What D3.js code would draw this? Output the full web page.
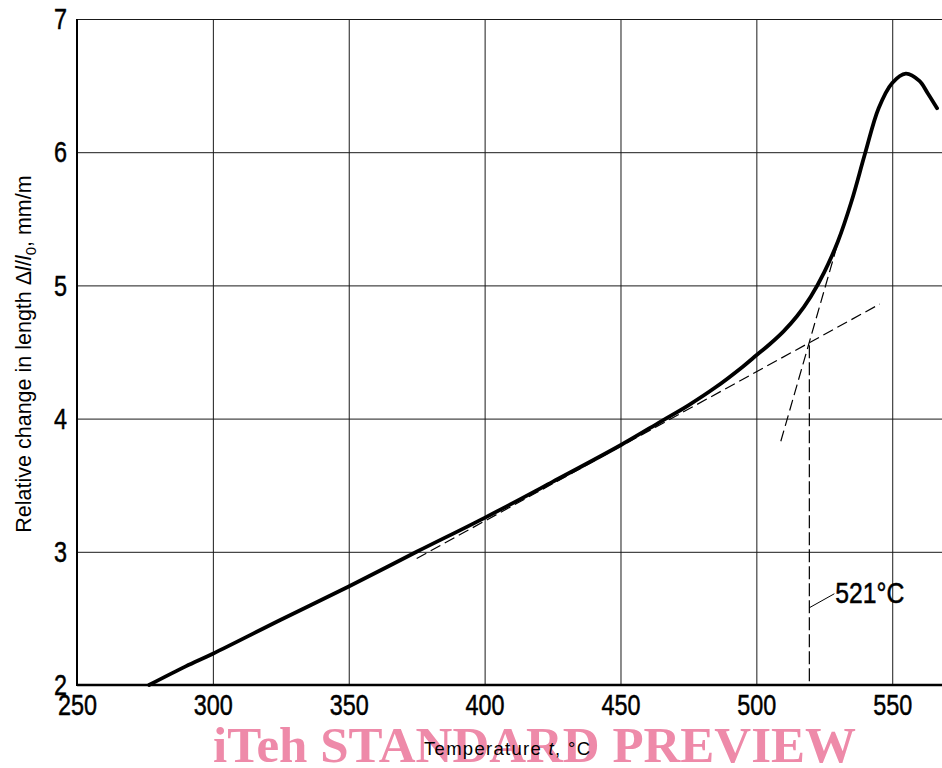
<!DOCTYPE html>
<html>
<head>
<meta charset="utf-8">
<script src="https://cdn.jsdelivr.net/npm/d3@7"></script>
<style>
  html, body { margin: 0; padding: 0; background: #fff; }
  svg { display: block; }
</style>
</head>
<body>
<svg id="chart" width="942" height="768"></svg>
<script>
// ---- Data ----
const xTicks = [250, 300, 350, 400, 450, 500, 550];
const yTicks = [2, 3, 4, 5, 6, 7];
const curveT = [276.5, 290, 300, 325, 350, 375, 400, 425, 450, 465, 475, 485, 495, 500, 505, 510, 515, 520, 525, 530, 535, 540, 545, 550, 555, 560, 563, 566.5];
const curveV = [2.0, 2.14, 2.235, 2.49, 2.74, 3.0, 3.255, 3.525, 3.80, 3.98, 4.10, 4.235, 4.39, 4.475, 4.56, 4.655, 4.77, 4.915, 5.10, 5.33, 5.63, 5.99, 6.33, 6.52, 6.59, 6.535, 6.445, 6.33];
const tangentLowT = [375, 545.4];
const tangentLowV = [2.95, 4.86];
const tangentSteepT = [509, 531];
const tangentSteepV = [3.83, 5.39];
const transitionT = 519.5;          // intersection of the two tangents
const transitionV = [4.55, 2];
const leaderT = [519.5, 528.7];
const leaderV = [2.58, 2.685];
const transitionLabel = "521°C";
const watermark = "iTeh STANDARD PREVIEW";

// ---- Setup ----
const svg = d3.select("#chart");
const x = d3.scaleLinear().domain([250, 568.5]).range([77, 942.5]);
const y = d3.scaleLinear().domain([2, 7]).range([685, 19]);
const tickFont = "'Liberation Sans', Arial, sans-serif";
const digitW = 13;

// Vertical gridlines + x tick labels
const gx = svg.append("g").attr("transform", `translate(0,${y(2)})`)
  .call(d3.axisBottom(x).tickValues(xTicks).tickSizeInner(-(y(2) - y(7))).tickSizeOuter(0).tickPadding(9).tickFormat(d3.format("d")));
gx.select(".domain").remove();
gx.selectAll(".tick line").attr("stroke", "#1a1a1a").attr("stroke-width", 1)
  .filter(d => d === 250).remove();
gx.selectAll(".tick text").attr("font-family", tickFont).attr("font-size", 30).attr("fill", "#000")
  .attr("stroke", "#000").attr("stroke-width", 0.5)
  .attr("dy", "0.71em")
  .attr("textLength", d => String(d).length * digitW).attr("lengthAdjust", "spacingAndGlyphs");

// Horizontal gridlines + y tick labels
const gy = svg.append("g").attr("transform", `translate(${x(250)},0)`)
  .call(d3.axisLeft(y).tickValues(yTicks).tickSizeInner(-(x.range()[1] - x(250))).tickSizeOuter(0).tickPadding(10).tickFormat(d3.format("d")));
gy.select(".domain").remove();
gy.selectAll(".tick line").attr("stroke", "#1a1a1a").attr("stroke-width", 1)
  .filter(d => d === 2).remove();
gy.selectAll(".tick text").attr("font-family", tickFont).attr("font-size", 30).attr("fill", "#000")
  .attr("stroke", "#000").attr("stroke-width", 0.5)
  .attr("textLength", d => String(d).length * digitW).attr("lengthAdjust", "spacingAndGlyphs");

// Axis lines (thick)
svg.append("line").attr("x1", x(250)).attr("x2", x(250)).attr("y1", y(7)).attr("y2", y(2) + 1)
  .attr("stroke", "#000").attr("stroke-width", 2);
svg.append("line").attr("x1", x(250)).attr("x2", x.range()[1]).attr("y1", y(2)).attr("y2", y(2))
  .attr("stroke", "#000").attr("stroke-width", 2.5);

// Tangent / construction lines
const line = d3.line().x(d => x(d[0])).y(d => y(d[1]));
const dash = "11,5";
svg.append("path").datum(d3.zip(tangentLowT, tangentLowV)).attr("d", line)
  .attr("fill", "none").attr("stroke", "#000").attr("stroke-width", 1.2).attr("stroke-dasharray", dash);
svg.append("path").datum(d3.zip(tangentSteepT, tangentSteepV)).attr("d", line)
  .attr("fill", "none").attr("stroke", "#000").attr("stroke-width", 1.2).attr("stroke-dasharray", dash);
svg.append("path").datum(transitionV.map(v => [transitionT, v])).attr("d", line)
  .attr("fill", "none").attr("stroke", "#000").attr("stroke-width", 1.2).attr("stroke-dasharray", "13,4");
svg.append("path").datum(d3.zip(leaderT, leaderV)).attr("d", line)
  .attr("fill", "none").attr("stroke", "#000").attr("stroke-width", 1);
svg.append("text").attr("x", x(leaderT[1]) + 1).attr("y", y(leaderV[1]) + 9)
  .attr("font-family", tickFont).attr("font-size", 30).attr("fill", "#000")
  .attr("stroke", "#000").attr("stroke-width", 0.5)
  .attr("textLength", 69).attr("lengthAdjust", "spacingAndGlyphs").text(transitionLabel);

// Main curve
const curveLine = d3.line().x(d => x(d[0])).y(d => y(d[1])).curve(d3.curveCatmullRom.alpha(0.5));
svg.append("path").datum(d3.zip(curveT, curveV)).attr("d", curveLine)
  .attr("fill", "none").attr("stroke", "#000").attr("stroke-width", 3.8)
  .attr("stroke-linejoin", "round").attr("stroke-linecap", "round");

// Watermark
svg.append("text").attr("x", 213).attr("y", 762)
  .attr("font-family", "'Liberation Serif', 'Times New Roman', serif").attr("font-weight", "bold")
  .attr("font-size", 50).attr("fill", "#ee8aa9")
  .attr("textLength", 643).attr("lengthAdjust", "spacingAndGlyphs").text(watermark);

// Axis titles
const xt = svg.append("text").attr("x", 424).attr("y", 755)
  .attr("font-family", "'Liberation Sans', Arial, sans-serif").attr("font-size", 18.5).attr("fill", "#000")
  .attr("textLength", 166).attr("lengthAdjust", "spacing");
xt.append("tspan").text("Temperature ");
xt.append("tspan").attr("font-style", "italic").text("t");
xt.append("tspan").text(", °C");

const yt = svg.append("text").attr("transform", "translate(31,354) rotate(-90)").attr("text-anchor", "middle")
  .attr("font-family", "'Liberation Sans', Arial, sans-serif").attr("font-size", 21.5).attr("fill", "#000");
yt.append("tspan").text("Relative change in length Δ");
yt.append("tspan").attr("font-style", "italic").text("l");
yt.append("tspan").text("/");
yt.append("tspan").attr("font-style", "italic").text("l");
yt.append("tspan").attr("font-size", 15).attr("dy", 5).text("0");
yt.append("tspan").attr("dy", -5).text(", mm/m");
</script>
</body>
</html>
